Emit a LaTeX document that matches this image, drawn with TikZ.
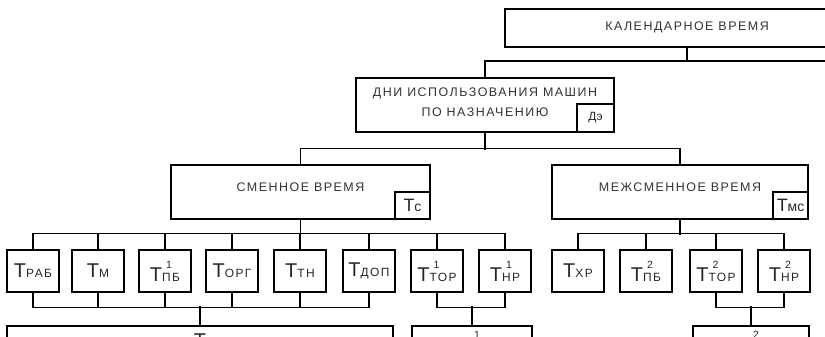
\documentclass[tikz,border=0pt]{standalone}
\usepackage{fontspec}
\setmainfont{Liberation Sans}
\newfontfamily\capsfont[LetterSpace=12]{Liberation Sans}
\usepackage{tikz}

% T with a small-caps index and an optional number above it
\newcommand{\tlab}[2]{{\fontsize{20}{20}\selectfont Т}\rlap{\kern4bp\raisebox{13bp}{\fontsize{10.5}{10.5}\selectfont #2}}{\capsfont\fontsize{12}{12}\selectfont #1}}

\begin{document}
\begin{tikzpicture}[x=1bp,y=-1bp,line width=1.4bp,
  box/.style={draw,minimum width=52bp,minimum height=42bp,inner sep=0pt,text=black!85},
  title/.style={draw,inner sep=0pt,align=center,text=black!80,
    font=\capsfont\fontsize{12.5}{20}\selectfont},
  tag/.style={draw,inner sep=0pt,anchor=south east,text=black!85}]
\useasboundingbox (0,0) rectangle (825,336);
\clip (0,0) rectangle (825,336);

\node[title,minimum width=364bp,minimum height=38bp,text depth=4bp] (cal) at (687,28) {КАЛЕНДАРНОЕ ВРЕМЯ};
\node[title,minimum width=258bp,minimum height=54bp,text depth=6bp] (dni) at (485,105) {ДНИ ИСПОЛЬЗОВАНИЯ МАШИН\\ПО НАЗНАЧЕНИЮ};
\node[tag,minimum width=37bp,minimum height=28bp,font=\fontsize{12}{12}\selectfont] (de) at (dni.south east) {Дэ};

\node[title,minimum width=259bp,minimum height=54bp,text depth=10bp] (smen) at (300.5,192) {СМЕННОЕ ВРЕМЯ};
\node[tag,minimum width=35bp,minimum height=27bp] (tc) at (smen.south east) {{\fontsize{18}{18}\selectfont Т}{\fontsize{14}{14}\selectfont с}};
\node[title,minimum width=256bp,minimum height=54bp,text depth=10bp] (mezh) at (680,192) {МЕЖСМЕННОЕ ВРЕМЯ};
\node[tag,minimum width=35bp,minimum height=27bp] (tmc) at (mezh.south east) {{\fontsize{18}{18}\selectfont Т}{\fontsize{14}{14}\selectfont мс}};

\foreach \n/\x/\lab in {rab/33/{\tlab{РАБ}{}}, m/98/{\tlab{М}{}}, pb1/165/{\tlab{ПБ}{1}},
    org/232/{\tlab{ОРГ}{}}, tn/300/{\tlab{ТН}{}}, dop/369/{\tlab{ДОП}{}},
    tor1/437/{\tlab{ТОР}{1}}, nr1/505/{\tlab{НР}{1}}, xr/578/{\tlab{ХР}{}},
    pb2/646/{\tlab{ПБ}{2}}, tor2/716/{\tlab{ТОР}{2}}, nr2/784/{\tlab{НР}{2}}}
  \node[box] (\n) at (\x,271) {\lab};

\node[box,minimum width=386bp,minimum height=30bp] (sum) at (200,341) {\tlab{}{}};
\node[box,minimum width=120bp,minimum height=30bp] (sum1) at (472,341) {\tlab{}{1}\kern16bp};
\node[box,minimum width=116bp,minimum height=30bp] (sum2) at (751,341) {\tlab{}{2}\kern16bp};

% connectors
\coordinate (edge) at (840,61);
\draw (cal.south) -- (cal.south |- edge);
\draw (dni.north) |- (edge);
\draw (dni.south) -- ++(0,17);
\draw (smen.north) -- ++(0,-16) -| (mezh.north);

\draw (smen.south) -- ++(0,15);
\draw (rab.north) -- ++(0,-16) -| (nr1.north);
\foreach \n in {m,pb1,org,tn,dop,tor1} \draw (\n.north) -- ++(0,-16);
\draw (rab.south) -- ++(0,15) -| (dop.south);
\foreach \n in {m,pb1,org,tn} \draw (\n.south) -- ++(0,15);
\draw (tor1.south) -- ++(0,15) -| (nr1.south);

\draw (mezh.south) -- ++(0,15);
\draw (xr.north) -- ++(0,-16) -| (nr2.north);
\foreach \n in {pb2,tor2} \draw (\n.north) -- ++(0,-16);
\draw (tor2.south) -- ++(0,15) -| (nr2.south);

\draw (sum.north) -- ++(0,-19);
\draw (sum1.north) -- ++(0,-19);
\draw (sum2.north) -- ++(0,-19);
\end{tikzpicture}
\end{document}
